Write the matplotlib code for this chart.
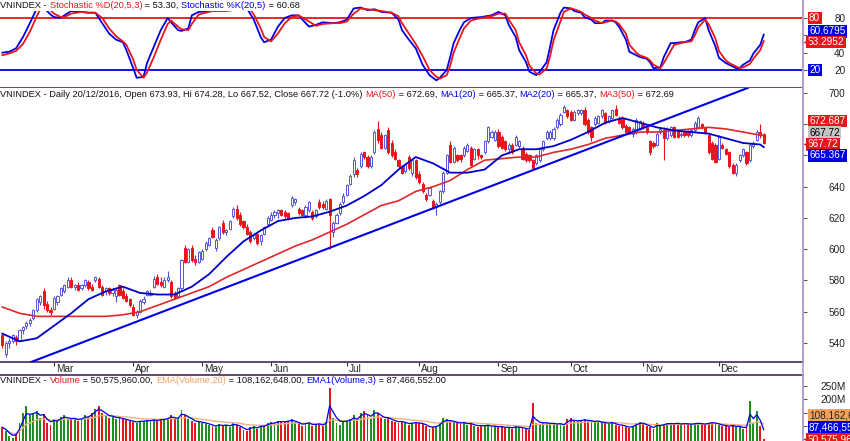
import numpy as np
import pandas as pd
import matplotlib
matplotlib.use('Agg')
import matplotlib.pyplot as plt
import matplotlib.transforms as mtransforms
from matplotlib.lines import Line2D
from matplotlib.offsetbox import TextArea, HPacker, AnnotationBbox

plt.rcParams['font.family'] = ['Liberation Sans', 'DejaVu Sans']

# daily VNINDEX candles, Feb 2016 .. 20/12/2016 (index = trading day)
opens = [545, 533, 540, 541, 544, 542, 548, 551, 553, 556, 561, 566, 573, 565, 561,
         562, 566, 571, 573, 576, 580, 576, 577, 575, 577, 579, 576, 580, 581, 576,
         573, 575, 572, 570, 577, 573, 570, 568,
         563, 558, 560, 566, 571, 571, 576, 582, 579, 576, 580, 579, 572, 570, 575,
         601, 592, 601, 594, 592,
         594, 600, 603, 612, 601, 607, 617, 611, 613, 621, 626, 622, 618, 614, 611,
         607, 610, 605, 610, 616,
         619, 622, 623, 625, 624, 623, 628, 630, 626, 625, 622, 625, 624, 621, 630,
         629, 626, 632, 611, 617, 623, 630,
         635, 642, 648, 651, 653, 662, 659, 653, 662, 677, 673, 665, 676, 668, 662,
         657, 653, 650, 659, 649, 657,
         648, 642, 635, 635, 631, 627, 630, 637, 649, 667, 656, 660, 660, 660, 663,
         665, 658, 664, 660, 662, 669, 672, 670,
         675, 672, 669, 664, 667, 667, 666, 665, 661, 660, 657, 655, 657, 664, 671,
         671, 671, 678, 680, 688, 689,
         688, 683, 687, 687, 689, 683, 678, 680, 681, 685, 687, 682, 684, 690, 684,
         684, 679, 678, 674, 675, 677,
         681, 678, 669, 668, 667, 675, 676, 671, 673, 678, 676, 673, 675, 675, 673,
         676, 678, 680, 678, 673, 668, 667,
         658, 667, 664, 662, 654, 649, 657, 660, 662, 657, 666, 670, 675, 673.93]
highs = [546, 541, 543, 546, 545, 549, 551, 554, 556, 562, 569, 571, 575, 567, 563,
         570, 571, 576, 578, 582, 582, 578, 579, 578, 581, 580, 578, 583, 582, 577,
         576, 576, 575, 576, 578, 575, 572, 569,
         565, 561, 568, 570, 574, 574, 583, 584, 582, 582, 586, 580, 573, 576, 594,
         603, 601, 603, 596, 599,
         600, 605, 608, 614, 607, 615, 619, 613, 619, 627, 628, 624, 619, 616, 612,
         610, 611, 610, 615, 621,
         624, 625, 626, 626, 625, 624, 634, 633, 627, 626, 628, 631, 625, 626, 632,
         631, 632, 633, 618, 623, 630, 636,
         642, 648, 659, 652, 662, 663, 660, 660, 676, 682, 675, 674, 678, 670, 664,
         658, 654, 655, 660, 658, 658,
         650, 643, 636, 640, 632, 630, 638, 650, 661, 669, 666, 661, 661, 666, 668,
         666, 665, 665, 661, 670, 679, 676, 676,
         677, 673, 670, 668, 668, 673, 670, 666, 662, 661, 658, 661, 665, 670, 676,
         676, 678, 684, 687, 692, 690,
         689, 689, 690, 690, 691, 684, 679, 685, 686, 690, 688, 686, 690, 692, 685,
         685, 680, 679, 678, 684, 683,
         682, 679, 670, 669, 675, 678, 678, 678, 679, 679, 677, 675, 676, 676, 677,
         682, 685, 681, 679, 674, 669, 668,
         673, 668, 665, 663, 655, 655, 661, 665, 663, 668, 669, 676, 680, 674.28]
lows = [537, 531, 537, 540, 539, 541, 546, 549, 551, 555, 560, 564, 562, 560, 558,
        561, 564, 570, 572, 575, 575, 574, 573, 574, 576, 574, 573, 579, 575, 570,
        571, 571, 570, 566, 570, 568, 566, 563,
        557, 556, 559, 565, 570, 570, 575, 577, 576, 575, 579, 569, 568, 569, 574,
        591, 591, 592, 590, 591,
        593, 599, 602, 607, 599, 606, 610, 609, 612, 620, 619, 615, 613, 609, 604,
        606, 603, 603, 609, 615,
        618, 620, 620, 621, 620, 619, 627, 628, 622, 621, 620, 624, 619, 620, 626,
        626, 625, 600, 608, 616, 622, 629,
        634, 641, 646, 646, 652, 658, 652, 652, 661, 668, 664, 664, 661, 659, 657,
        652, 648, 649, 651, 647, 645,
        642, 636, 631, 634, 626, 622, 629, 636, 648, 655, 655, 656, 656, 659, 662,
        653, 657, 658, 658, 661, 668, 671, 669,
        665, 664, 663, 661, 661, 666, 665, 657, 656, 656, 651, 654, 656, 663, 670,
        670, 670, 677, 679, 687, 684,
        682, 682, 686, 686, 679, 674, 669, 679, 680, 684, 680, 681, 683, 685, 680,
        677, 674, 674, 672, 674, 676,
        677, 674, 660, 665, 666, 674, 657, 670, 672, 671, 671, 672, 672, 672, 672,
        675, 677, 677, 674, 661, 657, 655,
        657, 664, 660, 652, 648, 647, 656, 659, 654, 656, 665, 669, 671, 667.52]
closes = [539, 540, 541, 545, 541, 548, 550, 553, 555, 561, 568, 570, 564, 561, 560,
          569, 570, 575, 577, 580, 576, 577, 574, 577, 580, 575, 574, 582, 576, 571,
          575, 572, 574, 574, 571, 569, 567, 564,
          558, 560, 567, 568, 573, 572, 581, 578, 577, 580, 582, 570, 569, 575, 593,
          592, 600, 593, 592, 598,
          599, 604, 607, 608, 606, 614, 611, 612, 618, 626, 620, 616, 614, 610, 605,
          609, 604, 609, 614, 620,
          622, 624, 625, 622, 621, 620, 633, 632, 623, 622, 627, 630, 620, 625, 627,
          627, 631, 622, 617, 622, 629, 634,
          641, 647, 657, 648, 661, 659, 653, 659, 675, 670, 665, 673, 662, 660, 658,
          653, 649, 654, 652, 657, 646,
          643, 637, 632, 639, 627, 629, 637, 649, 660, 656, 665, 657, 658, 665, 667,
          654, 664, 660, 659, 669, 678, 675, 675,
          666, 665, 664, 667, 662, 672, 669, 658, 657, 657, 652, 660, 664, 669, 675,
          675, 677, 683, 686, 691, 685,
          683, 688, 689, 689, 680, 675, 672, 684, 685, 689, 681, 685, 689, 686, 681,
          678, 675, 675, 677, 683, 682,
          678, 675, 662, 666, 674, 677, 671, 677, 678, 672, 672, 674, 673, 673, 676,
          681, 684, 678, 675, 662, 658, 656,
          672, 665, 661, 653, 649, 654, 660, 664, 655, 667, 668, 675, 673, 667.72]
# volume, millions of shares
volumes = [95, 80, 62, 55, 70, 110, 150, 175, 140, 150, 155, 130, 145, 110, 105,
           125, 118, 135, 140, 128, 125, 130, 120, 128, 140, 135, 150, 165, 175, 150,
           140, 130, 135, 128, 130, 125, 122, 118,
           115, 112, 120, 118, 122, 120, 125, 118, 128, 125, 130, 140, 130, 125, 160,
           140, 128, 120, 110, 115,
           112, 108, 105, 100, 95, 108, 100, 105, 98, 110, 104, 96, 85, 80, 95,
           100, 90, 105, 100, 110,
           115, 112, 120, 118, 115, 120, 125, 115, 110, 100, 110, 115, 100, 105, 110,
           100, 115, 243, 130, 110, 105, 115,
           120, 125, 140, 120, 150, 155, 140, 130, 160, 150, 130, 125, 130, 120, 115,
           112, 118, 110, 105, 112, 115,
           110, 108, 100, 90, 95, 100, 110, 130, 125, 120, 115, 110, 108, 115, 105,
           110, 100, 98, 102, 100, 105, 96, 100,
           95, 98, 92, 96, 90, 100, 95, 92, 88, 86, 186, 110, 105, 110, 112,
           108, 110, 105, 110, 100, 125,
           130, 120, 118, 122, 125, 120, 118, 115, 120, 110, 112, 108, 115, 105, 100,
           102, 96, 92, 100, 110, 115,
           112, 100, 95, 88, 110, 100, 108, 112, 110, 108, 112, 105, 110, 108, 105,
           110, 112, 108, 105, 112, 115, 110,
           105, 100, 100, 96, 105, 95, 100, 90, 95, 195, 110, 158, 100, 50.58]

# moving averages read every 5 sessions
ma_idx = [0, 5, 10, 15, 20, 25, 30, 35, 40, 45, 50, 55, 60, 65, 70, 75, 80, 85, 90,
          95, 100, 105, 110, 115, 120, 125, 130, 135, 140, 145, 150, 155, 160, 165,
          170, 175, 180, 185, 190, 195, 200, 205, 210, 215, 220, 221]
ma20 = [546, 541, 543, 551, 559, 568, 573, 576, 572, 571, 571, 576, 584, 595, 605,
        612, 618, 620, 621, 624, 628, 634, 641, 651, 659, 655, 649, 649, 651, 660,
        664, 664, 666, 670, 675, 681, 684, 681, 678, 676, 675, 674, 671, 668, 667,
        665.37]
ma50 = [563, 559, 557, 557, 557, 557, 557, 558, 560, 564, 568, 572, 576, 582, 587,
        592, 597, 602, 606, 611, 616, 622, 628, 631, 637, 640, 644, 651, 657, 658,
        659, 659, 662, 664, 667, 671, 673, 675, 675, 676, 677, 678, 677, 675, 673,
        672.69]
# trend line through two touch points (session, price)
trend_a = (8.6, 528.0)
trend_b = (216.1, 703.0)

# stochastic %K(20,5) and %D(20,5,3)
st_idx = [0, 2, 4, 6, 8, 10, 11, 12, 13, 14, 15, 17, 18, 20, 23, 25, 27, 29, 31, 33,
          35, 36, 38, 39, 41, 42, 44, 46, 48, 49, 51, 52, 54, 55, 57, 61, 65, 67, 69,
          70, 71, 73, 75, 76, 78, 80, 82, 84, 86, 89, 91, 93, 96, 98, 100, 102, 104,
          106, 108, 110, 113, 115, 116, 118, 120, 122, 124, 126, 127, 129, 130, 131,
          133, 134, 136, 139, 142, 144, 146, 147, 149, 150, 152, 153, 155, 156, 158,
          159, 160, 162, 163, 165, 166, 168, 169, 171, 172, 174, 175, 177, 178, 179,
          181, 182, 184, 185, 187, 188, 189, 191, 192, 194, 195, 197, 198, 200, 201,
          202, 204, 205, 207, 208, 210, 211, 213, 214, 215, 217, 218, 220, 221]
stoch_k = [40, 41, 45, 58, 74, 91, 97, 98, 88, 84, 81, 80, 83, 88, 87, 86, 86, 74, 62,
           55, 52, 43, 22, 11, 12, 28, 47, 66, 80, 75, 66, 65, 68, 83, 87, 88, 89, 90,
           99, 98, 91, 78, 58, 52, 55, 70, 80, 83, 83, 70, 72, 75, 74, 75, 78, 91, 92,
           89, 90, 87, 86, 78, 66, 55, 45, 26, 14, 8, 11, 20, 35, 51, 68, 75, 80, 81,
           83, 87, 83, 72, 58, 43, 29, 18, 14, 18, 29, 47, 66, 86, 92, 91, 88, 86, 81,
           78, 74, 74, 77, 77, 75, 70, 55, 41, 37, 35, 33, 29, 22, 23, 35, 51, 51, 52,
           52, 55, 66, 75, 80, 66, 47, 34, 28, 26, 22, 22, 26, 31, 39, 49, 60.68]
stoch_d = [37, 39, 42, 50, 64, 82, 90, 95, 94, 89, 85, 81, 81, 85, 87, 86, 86, 80, 68,
           59, 53, 49, 32, 20, 11, 17, 35, 55, 73, 77, 70, 67, 66, 73, 84, 88, 88, 89,
           95, 97, 95, 84, 68, 58, 53, 62, 74, 81, 83, 76, 71, 73, 74, 74, 76, 85, 91,
           90, 89, 88, 86, 82, 74, 62, 50, 36, 20, 12, 10, 14, 25, 40, 59, 68, 77, 80,
           82, 85, 85, 78, 66, 52, 37, 25, 16, 15, 22, 36, 54, 76, 87, 91, 90, 87, 84,
           80, 77, 74, 75, 77, 76, 73, 62, 49, 40, 37, 34, 31, 26, 22, 28, 42, 49, 51,
           52, 53, 60, 69, 78, 73, 56, 42, 31, 28, 24, 22, 23, 27, 33, 43, 53.30]

month_idx = [15, 38, 58, 78, 100, 121, 144, 165, 186, 208]
month_lbl = ['Mar', 'Apr', 'May', 'Jun', 'Jul', 'Aug', 'Sep', 'Oct', 'Nov', 'Dec']

opens = np.array(opens, float)
highs = np.array(highs, float)
lows = np.array(lows, float)
closes = np.array(closes, float)
volumes = np.array(volumes, float)
x = np.arange(len(closes))
up = closes >= opens

vol_s = pd.Series(volumes)
ema20 = vol_s.ewm(span=20, adjust=True).mean()
ema3 = vol_s.ewm(span=3, adjust=False).mean()

W, H = 850, 441
fig = plt.figure(figsize=(W / 100, H / 100), dpi=100)
fig.patch.set_facecolor('white')


def rect(top, bottom):
    return [0, 1 - bottom / H, 803 / W, (bottom - top) / H]


ax_st = fig.add_axes(rect(0, 88))
ax_pr = fig.add_axes(rect(88, 362))
ax_vo = fig.add_axes(rect(375, 441))

DARK = '#4a2858'
LIGHT = '#b39ccb'
BLUE = '#0000e8'
RED = '#e8161b'
UPC = '#5454d8'
FS_T = 6.65
FS_TK = 7.2

for ax in (ax_st, ax_pr, ax_vo):
    ax.set_xlim(-0.67, 232.4)
    for s in ('left', 'top', 'bottom'):
        ax.spines[s].set_visible(False)
    ax.spines['right'].set_color(LIGHT)
    ax.spines['right'].set_linewidth(1.2)
    ax.yaxis.tick_right()
    ax.tick_params(axis='y', direction='out', length=3, width=0.8, color='#555555',
                   labelsize=FS_TK, pad=27.5, labelcolor='#222222')
    ax.tick_params(axis='x', bottom=False, labelbottom=False)

ax_st.spines['bottom'].set_visible(True)
ax_st.spines['bottom'].set_color(DARK)
ax_st.spines['bottom'].set_linewidth(1.2)
ax_pr.spines['bottom'].set_visible(True)
ax_pr.spines['bottom'].set_color(DARK)
ax_pr.spines['bottom'].set_linewidth(1.2)
ax_vo.spines['top'].set_visible(True)
ax_vo.spines['top'].set_color(DARK)
ax_vo.spines['top'].set_linewidth(1.2)

# ---- stochastic panel
ax_st.set_ylim(-0.8, 100.7)
ax_st.axhline(80, color=RED, lw=1.3)
ax_st.axhline(20, color=BLUE, lw=1.3)
ax_st.plot(st_idx, stoch_k, color=BLUE, lw=1.3)
ax_st.plot(st_idx, stoch_d, color=RED, lw=1.3)
ax_st.set_yticks([20, 40, 60, 80])
ax_st.set_yticklabels(['20', '40', '', '80'])

# ---- price panel
ax_pr.set_ylim(527.8, 703.2)
edge = np.where(up, UPC, RED)
ax_pr.vlines(x, lows, highs, colors=edge, lw=0.8, zorder=3)
body_lo = np.minimum(opens, closes)
body_h = np.maximum(np.abs(closes - opens), 0.5)
ax_pr.bar(x, body_h, bottom=body_lo, width=0.62, color=np.where(up, 'white', RED),
          edgecolor=edge, linewidth=0.7, zorder=4)
ax_pr.plot(ma_idx, ma50, color='#e02828', lw=1.2, zorder=5)
ax_pr.plot(ma_idx, ma20, color='#0000c8', lw=1.3, zorder=5)
ax_pr.axline(trend_a, trend_b, color=BLUE, lw=1.5, zorder=5)
price_ticks = list(range(540, 701, 20))
ax_pr.set_yticks(price_ticks)
ax_pr.set_yticklabels(['' if t in (660, 680) else str(t) for t in price_ticks])
ax_pr.set_xticks(month_idx)
ax_pr.tick_params(axis='x', bottom=True, direction='out', length=3, width=0.8,
                  color='#333333', labelbottom=False)
for i, m in zip(month_idx, month_lbl):
    ax_pr.annotate(m, xy=(i, 0), xycoords=('data', 'axes fraction'), xytext=(1.2, -1.5),
                   textcoords='offset points', ha='left', va='top', fontsize=FS_TK,
                   color='#222222', annotation_clip=False)

# ---- volume panel
ax_vo.set_ylim(43.6, 291.7)
ax_vo.bar(x, volumes, width=0.55, color=np.where(up, '#1f8f1f', RED), zorder=3)
ax_vo.plot(x, ema20, color='#f2b27a', lw=1.0, zorder=4)
ax_vo.plot(x, ema3, color=BLUE, lw=0.9, zorder=5)
ax_vo.set_yticks([50, 100, 150, 200, 250])
ax_vo.set_yticklabels(['', '', '', '200M', '250M'])

for ax in (ax_st, ax_pr, ax_vo):
    for lab in ax.get_yticklabels():
        lab.set_horizontalalignment('right')

fig.add_artist(Line2D([803 / W, 803 / W], [0, 1], color=LIGHT, lw=1.2))


def tag(ax, val, text, fc, tc, dy, arrow=False):
    dx = 3.4 if arrow else 4.4
    ax.annotate(text, xy=(1, val), xycoords=('axes fraction', 'data'), xytext=(dx, dy),
                textcoords='offset points', ha='left', va='center', fontsize=FS_TK,
                color=tc, annotation_clip=False, zorder=10,
                bbox=dict(boxstyle='square,pad=0.14', fc=fc, ec='none'))
    if arrow:
        tr = mtransforms.offset_copy(mtransforms.blended_transform_factory(ax.transAxes, ax.transData),
                                     fig=fig, x=1.9, y=dy, units='points')
        ax.plot([1], [val], marker='<', ms=5, color=fc, mec='none', transform=tr,
                clip_on=False, zorder=10)


tag(ax_st, 80, '80', RED, 'white', 0)
tag(ax_st, 60.6795, '60.6795', BLUE, 'white', 2.4)
tag(ax_st, 53.2952, '53.2952', RED, 'white', -0.7, arrow=True)
tag(ax_st, 20, '20', BLUE, 'white', 0)

tag(ax_pr, 672.687, '672.687', RED, 'white', 10.6)
tag(ax_pr, 667.72, '667.72', '#c4c4c4', 'black', 7.6)
tag(ax_pr, 667.72, '667.72', RED, 'white', -0.7, arrow=True)
tag(ax_pr, 665.367, '665.367', BLUE, 'white', -6.0)

tag(ax_vo, 108.162648, '108,162,648', '#f5a259', '#222222', 6.3)
tag(ax_vo, 87.466552, '87,466,552', BLUE, 'white', 1.3)
tag(ax_vo, 50.57596, '50,575,960', RED, 'white', 0, arrow=True)


def title(parts, y_px, bg=False):
    boxes = [TextArea(s, textprops=dict(color=c, fontsize=FS_T)) for s, c in parts]
    pack = HPacker(children=boxes, align='baseline', pad=0, sep=0)
    ab = AnnotationBbox(pack, (0.5 / W, 1 - y_px / H), xycoords='figure fraction',
                        box_alignment=(0, 0.5), frameon=bg, pad=0.1,
                        bboxprops=dict(fc='white', ec='none'))
    fig.add_artist(ab)


K = '#111111'
title([('VNINDEX - ', K), ('Stochastic %D(20,5,3)', RED), (' = 53.30, ', K),
       ('Stochastic %K(20,5)', BLUE), (' = 60.68', K)], 5.5, bg=True)
title([('VNINDEX - Daily 20/12/2016, Open 673.93, Hi 674.28, Lo 667.52, Close 667.72 (-1.0%) ', K),
       ('MA(50)', RED), (' = 672.69, ', K), ('MA1(20)', BLUE), (' = 665.37, ', K),
       ('MA2(20)', BLUE), (' = 665.37, ', K), ('MA3(50)', RED), (' = 672.69', K)], 94.5)
title([('VNINDEX - ', K), ('Volume', RED), (' = 50,575,960.00, ', K),
       ('EMA(Volume,20)', '#f0a060'), (' = 108,162,648.00, ', K),
       ('EMA1(Volume,3)', BLUE), (' = 87,466,552.00', K)], 380.5)

fig.savefig('out.png', dpi=100)
